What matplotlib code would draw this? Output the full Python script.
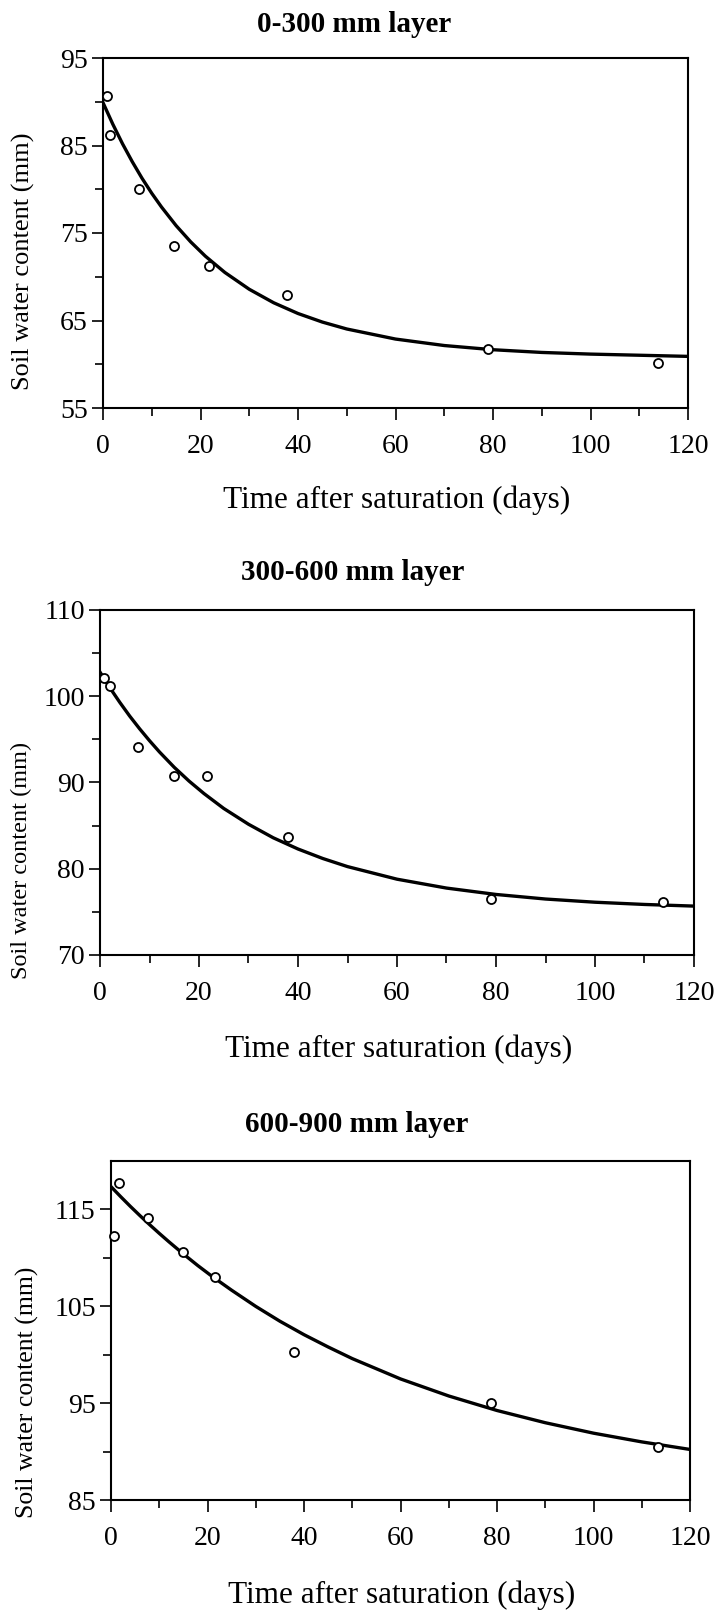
import numpy as np
import matplotlib
matplotlib.use("Agg")
import matplotlib.pyplot as plt
from matplotlib.ticker import MultipleLocator, FixedLocator

plt.rcParams["font.family"] = ["Liberation Serif", "DejaVu Serif"]

# observed soil water content (mm) vs days after saturation
x1 = [0.75, 1.4, 7.4, 14.6, 21.8, 37.8, 79.0, 113.8]
y1 = [90.7, 86.2, 80.0, 73.5, 71.2, 67.9, 61.7, 60.2]
x2 = [0.74, 1.95, 7.6, 14.95, 21.6, 37.9, 78.9, 113.8]
y2 = [102.1, 101.2, 94.1, 90.7, 90.7, 83.7, 76.5, 76.1]
x3 = [0.57, 1.6, 7.7, 15.0, 21.5, 38.0, 78.8, 113.4]
y3 = [112.3, 117.7, 114.1, 110.6, 108.0, 100.3, 95.0, 90.5]

# fitted curves
cx = [0, 2, 4, 6, 8, 10, 12, 15, 18, 21, 25, 30, 35, 40, 45, 50,
      60, 70, 80, 90, 100, 110, 120]
c1 = [89.9, 87.45, 85.2, 83.15, 81.26, 79.54, 77.97, 75.84, 73.98, 72.35,
      70.49, 68.57, 67.03, 65.8, 64.82, 64.03, 62.88, 62.14, 61.66, 61.35,
      61.16, 61.03, 60.9]
c2 = [102.8, 100.98, 99.29, 97.7, 96.23, 94.85, 93.55, 91.76, 90.16, 88.72,
      86.99, 85.16, 83.59, 82.29, 81.19, 80.25, 78.79, 77.76, 77.02, 76.49,
      76.12, 75.86, 75.67]
c3 = [117.35, 116.32, 115.32, 114.36, 113.43, 112.53, 111.66, 110.4, 109.2,
      108.07, 106.66, 104.99, 103.46, 102.07, 100.8, 99.6, 97.5, 95.74, 94.24,
      92.98, 91.9, 91.0, 90.22]

W, H = 723, 1618
fig = plt.figure(figsize=(W / 100, H / 100), dpi=100)

panels = [
    # obs x, obs y, curve, title, ylim, major, minor, box(px l,r,t,b), title pos, xlabel pos, ylabel pos, ylabel size
    (x1, y1, c1, "0-300 mm layer", (55, 95), [55, 65, 75, 85, 95], [60, 70, 80, 90],
     (103, 688, 58, 408), (354, 24), (397, 500), (23, 261), 19),
    (x2, y2, c2, "300-600 mm layer", (70, 110), [70, 80, 90, 100, 110], [75, 85, 95, 105],
     (100, 694, 610, 955), (353, 573), (399, 1049), (21, 860), 17.5),
    (x3, y3, c3, "600-900 mm layer", (85, 120), [85, 95, 105, 115], [90, 100, 110],
     (111, 690, 1161, 1500), (357, 1125), (402, 1595), (27, 1392), 18.5),
]

for xs, ys, cy, title, ylim, major, minor, box, tpos, xlpos, ylpos, yls in panels:
    l, r, t, b = box
    ax = fig.add_axes([l / W, 1 - b / H, (r - l) / W, (b - t) / H])
    ax.plot(cx, cy, color="black", lw=2.4, zorder=2)
    ax.plot(xs, ys, "o", ms=6.5, mfc="white", mec="black", mew=1.3, zorder=3,
            clip_on=False)
    ax.set_xlim(0, 120)
    ax.set_ylim(*ylim)
    ax.xaxis.set_major_locator(MultipleLocator(20))
    ax.xaxis.set_minor_locator(MultipleLocator(10))
    ax.yaxis.set_major_locator(FixedLocator(major))
    ax.yaxis.set_minor_locator(FixedLocator(minor))
    ax.tick_params(which="both", direction="out", top=False, right=False,
                   width=1.2, labelsize=20)
    ax.tick_params(axis="x", which="major", length=8.5, pad=10)
    ax.tick_params(axis="x", which="minor", length=5.5)
    ax.tick_params(axis="y", which="major", length=8, pad=3)
    ax.tick_params(axis="y", which="minor", length=5.5)
    for s in ax.spines.values():
        s.set_linewidth(1.5)
    fig.text(tpos[0] / W, 1 - tpos[1] / H, title, ha="center", va="center",
             fontsize=21, fontweight="bold")
    fig.text(xlpos[0] / W, 1 - xlpos[1] / H, "Time after saturation (days)",
             ha="center", va="center", fontsize=22.5)
    fig.text(ylpos[0] / W, 1 - ylpos[1] / H, "Soil water content (mm)",
             ha="center", va="center", rotation=90, fontsize=yls)

fig.savefig("out.png", dpi=100, facecolor="white")
